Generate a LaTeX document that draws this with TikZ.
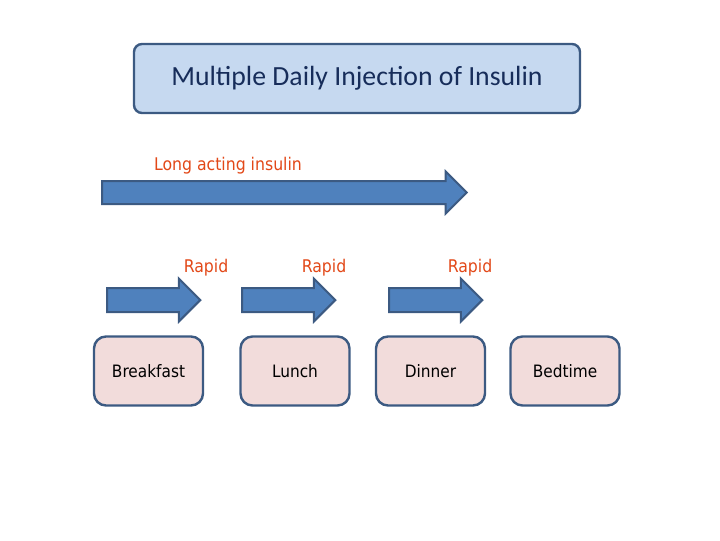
\documentclass[tikz,border=0pt]{standalone}
\usepackage{fontspec}
\setmainfont{Carlito}
\newfontfamily\labelfont{DejaVu Sans Condensed}
\usetikzlibrary{positioning,shapes.arrows}

\definecolor{titlefill}{RGB}{198,217,240}
\definecolor{titletext}{RGB}{23,45,90}
\definecolor{edgeblue}{RGB}{60,90,130}
\definecolor{arrowfill}{RGB}{79,129,189}
\definecolor{mealfill}{RGB}{242,220,219}
\definecolor{doselabel}{RGB}{226,72,24}

\begin{document}
\begin{tikzpicture}[x=0.75pt, y=-0.75pt,
  title box/.style={draw=edgeblue, line width=1.8pt, fill=titlefill, rounded corners=6pt,
    minimum width=334.5pt, minimum height=51.75pt, text=titletext, font=\fontsize{20.8}{24}\selectfont},
  meal box/.style={draw=edgeblue, line width=1.8pt, fill=mealfill, rounded corners=9pt,
    minimum width=81.75pt, minimum height=51.75pt, font=\labelfont\fontsize{12.8}{15}\selectfont},
  dose arrow/.style={single arrow, draw=edgeblue, line width=1.5pt, fill=arrowfill,
    inner xsep=0pt, single arrow tip angle=90, anchor=tail},
  long arrow/.style={dose arrow, inner ysep=7.875pt, minimum width=30pt, minimum height=273.5pt},
  rapid arrow/.style={dose arrow, inner ysep=8.25pt, minimum width=30.75pt, minimum height=70pt},
  dose text/.style={text=doselabel, font=\labelfont\fontsize{13.1}{15}\selectfont}]

  \useasboundingbox (0,0) rectangle (720,540);

  % Title
  \node[title box] (title) at (357,78.5) {Multiple Daily Injection of Insulin};

  % Long acting insulin
  \node[long arrow] (basal) at (101,192.5) {};
  \node[dose text] (basaltext) at (228,166) {Long acting insulin};

  % Rapid doses
  \node[rapid arrow] (rapid1) at (106,300) {};
  \node[rapid arrow] (rapid2) at (241,300) {};
  \node[rapid arrow] (rapid3) at (388,300) {};
  \node[dose text] (rapidtext1) at (206,268) {Rapid};
  \node[dose text] (rapidtext2) at (324,268) {Rapid};
  \node[dose text] (rapidtext3) at (470,268) {Rapid};

  % Meals
  \node[meal box] (breakfast) at (148.5,371) {Breakfast};
  \node[meal box] (lunch) at (295,371) {Lunch};
  \node[meal box] (dinner) at (430.5,371) {Dinner};
  \node[meal box] (bedtime) at (565,371) {Bedtime};
\end{tikzpicture}
\end{document}
